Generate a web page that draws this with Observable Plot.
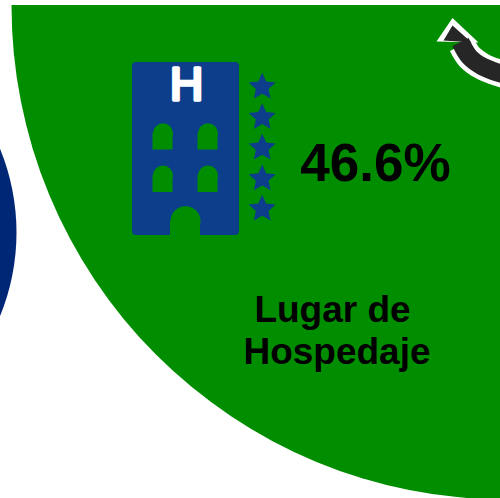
<!DOCTYPE html>
<html>
<head>
<meta charset="utf-8">
<script src="https://cdn.jsdelivr.net/npm/d3@7"></script>
<script src="https://cdn.jsdelivr.net/npm/@observablehq/plot@0.6"></script>
<style>
html,body{margin:0;padding:0;background:#fff}
svg{display:block}
</style>
</head>
<body>
<div id="chart"></div>
<script>
// Bubbles
const bubbleNames = ["Lugar de Hospedaje", "Otro"];
const bubbleX = [505, -204.7];
const bubbleY = [5, 232];
const bubbleR = [494, 220.7];
const bubbleColors = ["#008e00", "#002776"];

// Labels
const share = "46.6%";
const titleLines = ["Lugar de", "Hospedaje"];
const titleX = [332, 336.5];
const titleY = [321, 363];

// Hotel pictogram
const towerBox = [132, 239, 62, 235];
const windowX = [162.5, 207.5, 162.5, 207.5];
const windowTop = [132.7, 132.7, 175, 175];
const windowBottom = [149.5, 149.5, 192, 192];
const doorX = [185];
const doorTop = [220.7];
const starY = [86.5, 116.9, 147.5, 178.2, 208.5];

// Arrow
const shaftX = [461.5, 469, 482, 500, 518];
const shaftY = [44.5, 56.5, 66, 73, 78];
const coreX = [460, 469, 482, 500, 518];
const coreY = [41.5, 56.5, 66, 73, 78];
const headOuterX = [452, 436, 478];
const headOuterY = [17.5, 41, 42];
const headInnerX = [452, 443, 471];
const headInnerY = [25, 40, 42];

const green = bubbleColors[0], tower = "#0c3e8c", dark = "#262626";
const idx = a => a.map((_, i) => i);
const fatStar = {
  draw(ctx, size) {
    const R = Math.sqrt(size * 0.8908), q = R * 0.47;
    for (let i = 0; i < 10; i++) {
      const a = -Math.PI / 2 + i * Math.PI / 5, m = i % 2 ? q : R;
      const px = m * Math.cos(a), py = m * Math.sin(a);
      if (i) ctx.lineTo(px, py); else ctx.moveTo(px, py);
    }
    ctx.closePath();
  }
};

const plot = Plot.plot({
  width: 500, height: 498,
  marginTop: 5, marginRight: 0, marginBottom: 0, marginLeft: 0,
  x: {domain: [0, 500], range: [0, 500], axis: null},
  y: {domain: [5, 498], range: [5, 498], axis: null},
  r: {type: "identity"},
  marks: [
    Plot.dot(idx(bubbleX), {x: i => bubbleX[i], y: i => bubbleY[i], r: i => bubbleR[i], fill: i => bubbleColors[i], clip: true}),
    // tower
    Plot.rect([towerBox], {x1: d => d[0], x2: d => d[1], y1: d => d[2], y2: d => d[3], fill: tower, rx: 4}),
    Plot.rect(idx(windowX), {x1: i => windowX[i] - 10, x2: i => windowX[i] + 10, y1: i => windowTop[i], y2: i => windowBottom[i], fill: green}),
    Plot.dot(idx(windowX), {x: i => windowX[i], y: i => windowTop[i], r: 10, fill: green}),
    Plot.rect(idx(doorX), {x1: i => doorX[i] - 15, x2: i => doorX[i] + 15, y1: i => doorTop[i], y2: 235, fill: green}),
    Plot.dot(idx(doorX), {x: i => doorX[i], y: i => doorTop[i], r: 15, fill: green}),
    Plot.text(["H"], {x: 186, y: 84.5, text: d => d, fill: "#fff", stroke: "#fff", strokeWidth: 3.5, strokeLinejoin: "round", fontSize: 46, fontWeight: 400, fontFamily: "Liberation Sans", textAnchor: "middle", lineAnchor: "middle"}),
    Plot.dot(starY, {x: () => 261.7, y: d => d, r: 8.5, symbol: fatStar, fill: tower}),
    // arrow
    Plot.line(idx(shaftX), {x: i => shaftX[i], y: i => shaftY[i], stroke: "#fff", strokeWidth: 27, curve: "catmull-rom", clip: true, strokeLinecap: "butt"}),
    Plot.line(idx(headOuterX), {x: i => headOuterX[i], y: i => headOuterY[i], fill: "#fff", stroke: "none", curve: "linear"}),
    Plot.line(idx(coreX), {x: i => coreX[i], y: i => coreY[i], stroke: dark, strokeWidth: 18, curve: "catmull-rom", clip: true, strokeLinecap: "butt"}),
    Plot.line(idx(headInnerX), {x: i => headInnerX[i], y: i => headInnerY[i], fill: dark, stroke: "none", curve: "linear"}),
    // text
    Plot.text([share], {x: 375, y: 164, text: d => d, fill: "#000", fontSize: 53, fontWeight: 700, fontFamily: "Liberation Sans", textAnchor: "middle", lineAnchor: "middle"}),
    Plot.text(idx(titleLines), {x: i => titleX[i], y: i => titleY[i], text: i => titleLines[i], fill: "#000", fontSize: 37, fontWeight: 700, fontFamily: "Liberation Sans", textAnchor: "middle", lineAnchor: "bottom"})
  ]
});
document.getElementById("chart").append(plot);
</script>
</body>
</html>
